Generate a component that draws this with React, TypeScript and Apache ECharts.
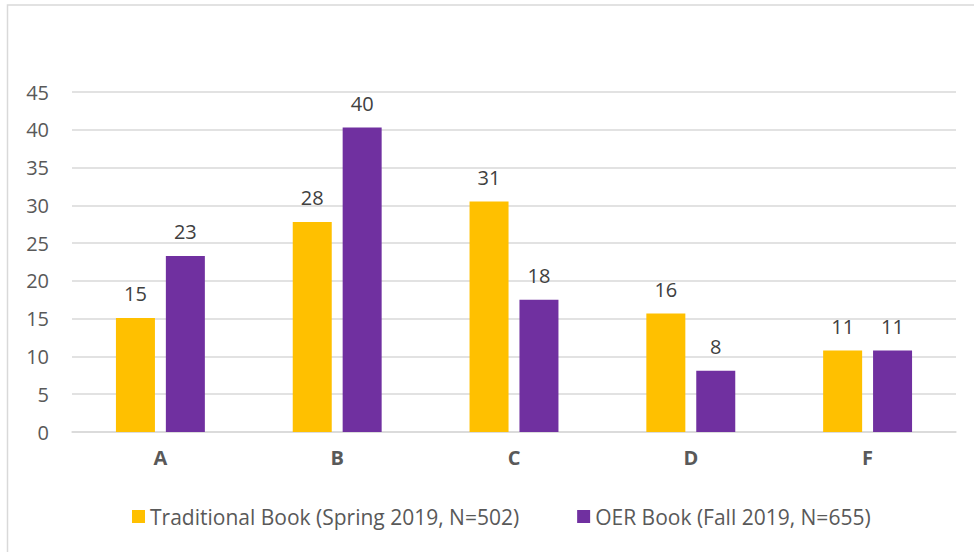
import React, { useEffect, useRef } from "react";
import * as echarts from "echarts";

const categories = ["A", "B", "C", "D", "F"];
const traditionalValues = [15.1, 27.8, 30.5, 15.7, 10.8];
const oerValues = [23.3, 40.3, 17.5, 8.1, 10.8];
const seriesNames = ["Traditional Book (Spring 2019, N=502)", "OER Book (Fall 2019, N=655)"];

const FONT = "'Open Sans', 'Noto Sans', sans-serif";

export default function App() {
  const ref = useRef<HTMLDivElement>(null);
  useEffect(() => {
    if (!ref.current) return;
    const chart = echarts.init(ref.current, null, { renderer: "svg" });
    const label = {
      show: true,
      position: "top",
      distance: 14,
      color: "#404040",
      fontSize: 20,
      fontFamily: FONT,
      formatter: (p: any) => String(Math.round(p.value)),
    };
    chart.setOption({
      animation: false,
      backgroundColor: "#ffffff",
      graphic: [
        {
          type: "rect",
          shape: { x: 7.5, y: 5, width: 1000, height: 1000 },
          style: { fill: "none", stroke: "#d9d9d9", lineWidth: 1.5 },
          silent: true,
        },
      ],
      grid: { left: 72, right: 18, top: 92, bottom: 120, containLabel: false },
      legend: {
        left: 132,
        top: 506,
        padding: 0,
        itemWidth: 13,
        itemHeight: 13,
        itemGap: 58,
        icon: "rect",
        textStyle: { color: "#595959", fontSize: 21, fontFamily: FONT },
        data: seriesNames,
      },
      xAxis: {
        type: "category",
        data: categories,
        axisTick: { show: false },
        axisLine: { lineStyle: { color: "#d9d9d9", width: 1.5 } },
        axisLabel: { color: "#595959", fontWeight: "bold", fontSize: 20, fontFamily: FONT, margin: 15 },
      },
      yAxis: {
        type: "value",
        min: 0,
        max: 45,
        interval: 5,
        axisLine: { show: false },
        axisTick: { show: false },
        splitLine: { lineStyle: { color: "#d9d9d9", width: 1.5 } },
        axisLabel: { color: "#595959", fontSize: 20, fontFamily: FONT, margin: 23 },
      },
      series: [
        {
          name: seriesNames[0],
          type: "bar",
          data: traditionalValues,
          barWidth: 39,
          barGap: "28%",
          itemStyle: { color: "#FFC000" },
          label,
        },
        {
          name: seriesNames[1],
          type: "bar",
          data: oerValues,
          barWidth: 39,
          barGap: "28%",
          itemStyle: { color: "#7030A0" },
          label,
        },
      ],
    });
    return () => chart.dispose();
  }, []);
  return (
    <div
      ref={ref}
      style={{ position: "absolute", left: 0, top: 0, width: 974, height: 552 }}
    />
  );
}
